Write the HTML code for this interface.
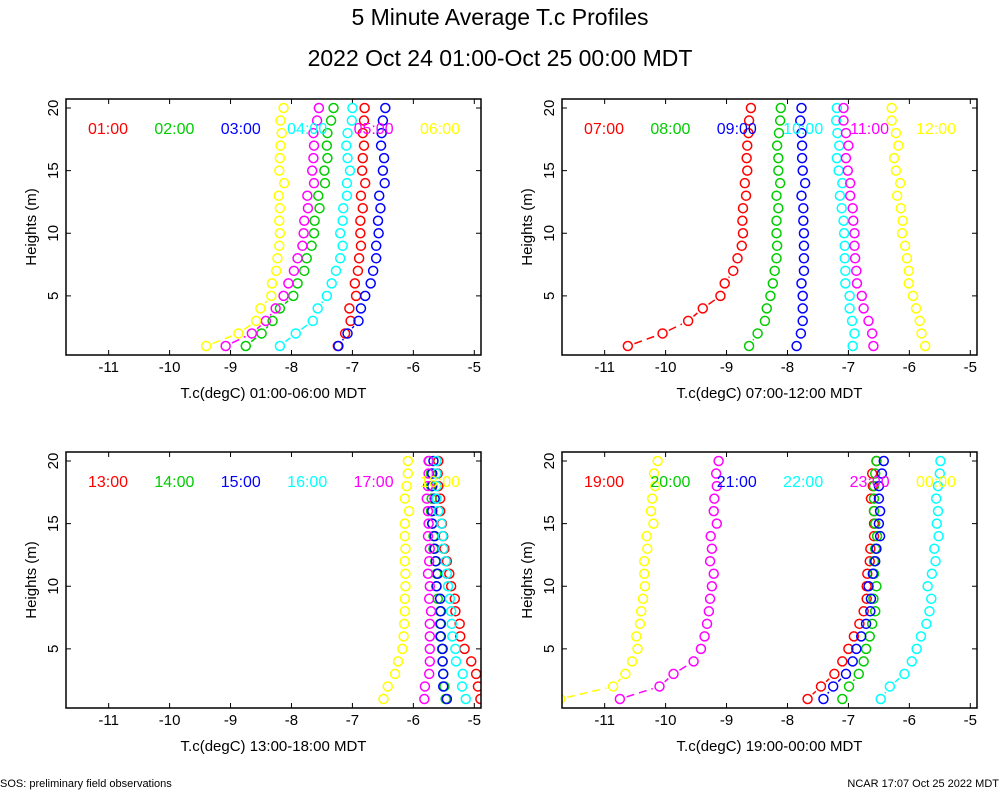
<!DOCTYPE html>
<html><head><meta charset="utf-8"><style>
body{margin:0;background:#fff;}
svg text{font-family:"Liberation Sans",sans-serif;}
</style></head><body>
<svg id="chart" width="1000" height="800" viewBox="0 0 1000 800" xmlns="http://www.w3.org/2000/svg">
<rect width="1000" height="800" fill="#fff"/>
<text x="500" y="25" font-size="23" text-anchor="middle">5 Minute Average T.c Profiles</text>
<text x="500" y="66" font-size="23" text-anchor="middle">2022 Oct 24 01:00-Oct 25 00:00 MDT</text>
<text x="0" y="787" font-size="11">SOS: preliminary field observations</text>
<text x="999" y="787" font-size="11" text-anchor="end">NCAR 17:07 Oct 25 2022 MDT</text>
</svg>
<script>
const heights=[1,2,3,4,5,6,7,8,9,10,11,12,13,14,15,16,17,18,19,20];
const xTicks=[-11,-10,-9,-8,-7,-6,-5];
const yTicks=[5,10,15,20];
const colors=["#ff0000","#00cc00","#0000ff","#00ffff","#ff00ff","#ffff00"];
const panelLabels=[["01:00","02:00","03:00","04:00","05:00","06:00"],["07:00","08:00","09:00","10:00","11:00","12:00"],["13:00","14:00","15:00","16:00","17:00","18:00"],["19:00","20:00","21:00","22:00","23:00","00:00"]];
const xTitles=["T.c(degC) 01:00-06:00 MDT","T.c(degC) 07:00-12:00 MDT","T.c(degC) 13:00-18:00 MDT","T.c(degC) 19:00-00:00 MDT"];
const p1=[
[-7.24,-7.12,-7.03,-7.05,-6.94,-6.96,-6.91,-6.89,-6.86,-6.87,-6.87,-6.83,-6.86,-6.79,-6.84,-6.83,-6.81,-6.83,-6.81,-6.80],
[-8.75,-8.49,-8.31,-8.19,-7.97,-7.90,-7.79,-7.75,-7.67,-7.63,-7.62,-7.54,-7.56,-7.45,-7.46,-7.41,-7.42,-7.41,-7.35,-7.31],
[-7.23,-7.08,-6.90,-6.86,-6.79,-6.70,-6.66,-6.61,-6.61,-6.57,-6.58,-6.54,-6.56,-6.47,-6.50,-6.48,-6.53,-6.52,-6.50,-6.46],
[-8.19,-7.93,-7.65,-7.57,-7.42,-7.34,-7.27,-7.20,-7.16,-7.20,-7.16,-7.15,-7.09,-7.09,-7.04,-7.08,-7.10,-7.08,-7.01,-7.00],
[-9.08,-8.65,-8.42,-8.26,-8.13,-8.05,-7.96,-7.90,-7.82,-7.80,-7.79,-7.73,-7.74,-7.63,-7.66,-7.64,-7.63,-7.64,-7.58,-7.55],
[-9.40,-8.87,-8.58,-8.51,-8.33,-8.32,-8.25,-8.23,-8.20,-8.19,-8.20,-8.19,-8.21,-8.12,-8.20,-8.19,-8.18,-8.16,-8.18,-8.13]];
const p2=[
[-10.62,-10.05,-9.63,-9.39,-9.10,-9.03,-8.89,-8.82,-8.75,-8.73,-8.74,-8.73,-8.68,-8.70,-8.66,-8.67,-8.66,-8.64,-8.63,-8.60],
[-8.63,-8.49,-8.37,-8.34,-8.28,-8.24,-8.21,-8.18,-8.17,-8.18,-8.18,-8.15,-8.18,-8.12,-8.15,-8.15,-8.17,-8.14,-8.12,-8.11],
[-7.85,-7.78,-7.75,-7.75,-7.75,-7.77,-7.73,-7.73,-7.73,-7.73,-7.74,-7.74,-7.77,-7.71,-7.75,-7.76,-7.76,-7.77,-7.79,-7.77],
[-6.93,-6.90,-6.94,-6.98,-6.98,-7.05,-7.05,-7.06,-7.06,-7.07,-7.08,-7.11,-7.14,-7.10,-7.16,-7.19,-7.15,-7.18,-7.20,-7.19],
[-6.59,-6.61,-6.67,-6.75,-6.78,-6.86,-6.87,-6.89,-6.90,-6.90,-6.92,-6.93,-6.97,-6.97,-7.01,-7.04,-7.00,-7.04,-7.08,-7.08],
[-5.74,-5.80,-5.83,-5.89,-5.94,-6.01,-6.01,-6.04,-6.07,-6.12,-6.11,-6.14,-6.20,-6.15,-6.22,-6.25,-6.18,-6.22,-6.29,-6.29]];
const p3=[
[-4.90,-4.94,-4.97,-5.05,-5.16,-5.23,-5.24,-5.31,-5.32,-5.38,-5.41,-5.45,-5.49,-5.51,-5.53,-5.56,-5.56,-5.59,-5.60,-5.59],
[-5.47,-5.49,-5.51,-5.52,-5.53,-5.56,-5.56,-5.56,-5.60,-5.62,-5.62,-5.64,-5.67,-5.67,-5.69,-5.71,-5.70,-5.71,-5.71,-5.74],
[-5.45,-5.51,-5.51,-5.52,-5.52,-5.55,-5.55,-5.55,-5.56,-5.62,-5.60,-5.63,-5.65,-5.65,-5.69,-5.69,-5.65,-5.69,-5.69,-5.67],
[-5.14,-5.20,-5.19,-5.30,-5.31,-5.36,-5.37,-5.38,-5.40,-5.43,-5.45,-5.47,-5.51,-5.52,-5.54,-5.59,-5.62,-5.62,-5.62,-5.62],
[-5.82,-5.81,-5.74,-5.73,-5.73,-5.73,-5.73,-5.71,-5.74,-5.73,-5.76,-5.74,-5.73,-5.76,-5.75,-5.76,-5.78,-5.76,-5.75,-5.75],
[-6.49,-6.42,-6.30,-6.25,-6.18,-6.16,-6.15,-6.14,-6.14,-6.13,-6.13,-6.14,-6.13,-6.14,-6.14,-6.07,-6.14,-6.11,-6.09,-6.09]];
const p4=[
[-7.67,-7.45,-7.23,-7.10,-7.00,-6.91,-6.82,-6.75,-6.70,-6.70,-6.69,-6.65,-6.64,-6.58,-6.58,-6.58,-6.63,-6.60,-6.61,-6.54],
[-7.10,-6.99,-6.83,-6.75,-6.71,-6.65,-6.61,-6.56,-6.59,-6.54,-6.58,-6.58,-6.56,-6.53,-6.56,-6.58,-6.58,-6.58,-6.56,-6.54],
[-7.41,-7.25,-7.04,-6.93,-6.87,-6.79,-6.71,-6.64,-6.63,-6.67,-6.60,-6.56,-6.54,-6.48,-6.50,-6.48,-6.50,-6.50,-6.45,-6.42],
[-6.47,-6.32,-6.08,-5.96,-5.88,-5.81,-5.72,-5.67,-5.64,-5.70,-5.63,-5.57,-5.59,-5.52,-5.55,-5.53,-5.56,-5.53,-5.50,-5.49],
[-10.75,-10.10,-9.87,-9.54,-9.42,-9.36,-9.32,-9.29,-9.27,-9.24,-9.21,-9.27,-9.24,-9.26,-9.16,-9.21,-9.20,-9.16,-9.17,-9.13],
[-11.73,-10.86,-10.66,-10.55,-10.46,-10.48,-10.42,-10.40,-10.37,-10.34,-10.35,-10.35,-10.30,-10.31,-10.20,-10.24,-10.22,-10.17,-10.19,-10.13]];
const panels=[p1,p2,p3,p4];

const NS="http://www.w3.org/2000/svg";
const svg=document.getElementById("chart");
function mk(tag,attrs,parent){const e=document.createElementNS(NS,tag);for(const k in attrs)e.setAttribute(k,attrs[k]);(parent||svg).appendChild(e);return e;}
const W=415,H=256,XMIN=-11.7,XMAX=-4.89,YMIN=0.28,YMAX=20.72;
panels.forEach((data,pi)=>{
  const ox=66+(pi%2)*496, oy=99+Math.floor(pi/2)*353;
  const sx=v=>ox+(v-XMIN)/(XMAX-XMIN)*W;
  const sy=v=>oy+H-(v-YMIN)/(YMAX-YMIN)*H;
  const g=mk("g",{});
  
  
  const clipId="clip"+pi;
  const cp=mk("clipPath",{id:clipId},g);mk("rect",{x:ox,y:oy,width:W,height:H},cp);
  xTicks.forEach(t=>{const x=sx(t);
    const tk=mk("path",{d:`M${x},${oy+H}v-5M${x},${oy}v5`,stroke:"#000","stroke-width":1},g);
    
    
    const tl=mk("text",{x:x,y:oy+H+17,"font-size":15,"text-anchor":"middle"},g);tl.textContent=String(t);
    
    
  });
  yTicks.forEach(t=>{const y=sy(t);
    const tk=mk("path",{d:`M${ox},${y}h5M${ox+W},${y}h-5`,stroke:"#000","stroke-width":1},g);
    
    
    const tl=mk("text",{x:ox-8,y:y,"font-size":15,"text-anchor":"middle",transform:`rotate(-90 ${ox-8} ${y})`},g);tl.textContent=t;
    
    
  });
  const yt=mk("text",{x:ox-30,y:oy+H/2,"font-size":15,"text-anchor":"middle",transform:`rotate(-90 ${ox-30} ${oy+H/2})`},g);yt.textContent="Heights (m)";
  
  
  const xt=mk("text",{x:ox+W/2,y:oy+H+43,"font-size":15,"text-anchor":"middle"},g);xt.textContent=xTitles[pi];
  
  
  const sg=mk("g",{"clip-path":`url(#${clipId})`},g);
  data.forEach((series,si)=>{
    const c=colors[si];
    const s=mk("g",{},sg);
    
    
    for(let i=0;i<series.length-1;i++){
      const x1=sx(series[i]),y1=sy(heights[i]),x2=sx(series[i+1]),y2=sy(heights[i+1]);
      const d=Math.hypot(x2-x1,y2-y1),gap=7;
      if(d>2*gap+1){const ux=(x2-x1)/d,uy=(y2-y1)/d;
        mk("line",{x1:x1+ux*gap,y1:y1+uy*gap,x2:x2-ux*gap,y2:y2-uy*gap,stroke:c,"stroke-width":1.5,"stroke-dasharray":"8,5"},s);}
    }
    series.forEach((v,i)=>{
      const pt=mk("circle",{cx:sx(v),cy:sy(heights[i]),r:4.5,fill:"none",stroke:c,"stroke-width":1.5},s);
      
      
    });
  });
  panelLabels[pi].forEach((lab,si)=>{
    const t=mk("text",{x:ox+42+si*66.4,y:oy+35,"font-size":16,"text-anchor":"middle",fill:colors[si]},g);t.textContent=lab;
    
    
  });
  const fr=mk("rect",{x:ox,y:oy,width:W,height:H,fill:"none",stroke:"#000","stroke-width":1.5},g);
  
  
});
</script>
</body></html>
